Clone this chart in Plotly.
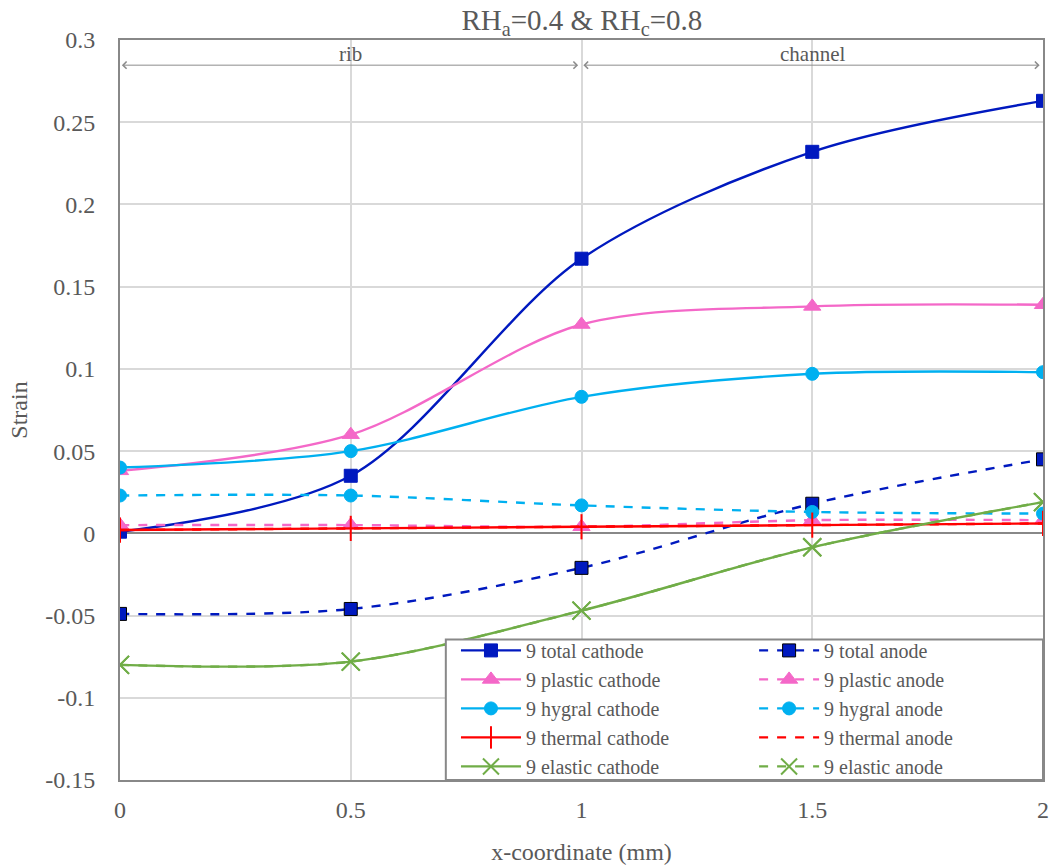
import plotly.graph_objects as go

x_mm = [0, 0.5, 1, 1.5, 2]

total_cathode = [0.001, 0.035, 0.167, 0.232, 0.263]
total_anode = [-0.049, -0.046, -0.021, 0.018, 0.045]
plastic_cathode = [0.038, 0.060, 0.127, 0.138, 0.139]
plastic_anode = [0.005, 0.005, 0.004, 0.008, 0.008]
hygral_cathode = [0.040, 0.050, 0.083, 0.097, 0.098]
hygral_anode = [0.023, 0.023, 0.017, 0.013, 0.012]
thermal_cathode = [0.002, 0.003, 0.004, 0.005, 0.006]
thermal_anode = [0.002, 0.003, 0.004, 0.005, 0.006]
elastic_cathode = [-0.080, -0.078, -0.047, -0.0085, 0.019]
elastic_anode = [-0.080, -0.078, -0.047, -0.0085, 0.019]

y_ticks = [0.3, 0.25, 0.2, 0.15, 0.1, 0.05, 0, -0.05, -0.1, -0.15]
y_labels = ["0.3", "0.25", "0.2", "0.15", "0.1", "0.05", "0", "-0.05", "-0.1", "-0.15"]
x_ticks = [0, 0.5, 1, 1.5, 2]
x_labels = ["0", "0.5", "1", "1.5", "2"]

BLUE = "#0019BF"
PINK = "#F468C8"
CYAN = "#00B0F0"
RED = "#FF0000"
GREEN = "#70AD47"
GREY = "#595959"

# name, values, colour, dash, marker symbol, marker line colour, legend
series = [
    ("9 total cathode", total_cathode, BLUE, "solid", "square", BLUE, "legend"),
    ("9 total anode", total_anode, BLUE, "dash", "square", "black", "legend2"),
    ("9 plastic cathode", plastic_cathode, PINK, "solid", "triangle-up", PINK, "legend"),
    ("9 plastic anode", plastic_anode, PINK, "dash", "triangle-up", PINK, "legend2"),
    ("9 hygral cathode", hygral_cathode, CYAN, "solid", "circle", CYAN, "legend"),
    ("9 hygral anode", hygral_anode, CYAN, "dash", "circle", CYAN, "legend2"),
    ("9 thermal cathode", thermal_cathode, RED, "solid", "line-ns", RED, "legend"),
    ("9 thermal anode", thermal_anode, RED, "dash", None, RED, "legend2"),
    ("9 elastic cathode", elastic_cathode, GREEN, "solid", "x-thin", GREEN, "legend"),
    ("9 elastic anode", elastic_anode, GREEN, "dash", "x-thin", GREEN, "legend2"),
]

fig = go.Figure()
for name, vals, col, dash, sym, mline, leg in series:
    marker = dict(color=col, size=13, line=dict(color=mline, width=1))
    mode = "lines+markers"
    if sym is None:
        mode = "lines"
    else:
        marker["symbol"] = sym
        if sym in ("line-ns", "x-thin"):
            marker = dict(symbol=sym, size=18, line=dict(color=col, width=2))
        if sym == "triangle-up":
            marker["size"] = 15
    fig.add_trace(go.Scatter(
        x=x_mm, y=vals, name=name, mode=mode, legend=leg,
        line=dict(color=col, width=2.4, dash=dash, shape="spline", smoothing=0.9),
        marker=marker,
    ))

font = "Liberation Serif, Times New Roman, serif"
leg_style = dict(orientation="v", yanchor="bottom", y=-0.008, xanchor="left",
                 tracegroupgap=0, bgcolor="rgba(0,0,0,0)", borderwidth=0,
                 font=dict(size=20, color=GREY), itemwidth=60, traceorder="normal")

fig.update_layout(
    width=1055, height=868,
    margin=dict(l=120, r=12, t=40, b=88),
    paper_bgcolor="white", plot_bgcolor="white",
    font=dict(family=font, size=22, color=GREY),
    title=dict(text="RH<sub>a</sub>=0.4 & RH<sub>c</sub>=0.8", x=0.5515, xanchor="center",
               y=0.977, yanchor="middle", font=dict(size=29, color=GREY)),
    showlegend=True,
    legend=dict(x=0.364, **leg_style),
    legend2=dict(x=0.687, **leg_style),
    xaxis=dict(range=[0, 2], tickvals=x_ticks, ticktext=x_labels, automargin=False,
               showgrid=True, gridcolor="#D9D9D9", gridwidth=2,
               showline=True, linecolor="#888888", linewidth=2, mirror=True,
               zeroline=False, ticks="", ticklabelstandoff=7,
               title=dict(text="x-coordinate (mm)", standoff=21, font=dict(size=24)),
               tickfont=dict(size=24)),
    yaxis=dict(range=[-0.15, 0.3], tickvals=y_ticks, ticktext=y_labels, automargin=False,
               showgrid=True, gridcolor="#D9D9D9", gridwidth=2,
               showline=True, linecolor="#888888", linewidth=2, mirror=True,
               zeroline=True, zerolinecolor="#888888", zerolinewidth=2,
               ticks="", ticklabelstandoff=18,
               title=dict(text="Strain", standoff=11, font=dict(size=24)),
               tickfont=dict(size=24)),
)

# legend box (opaque, covers the curves behind it)
fig.add_shape(type="rect", xref="paper", yref="paper", x0=0.353, x1=1.0, y0=0.0, y1=0.19,
              fillcolor="white", line=dict(color="#888888", width=2), layer="above")

# rib / channel dimension arrows
for x0, x1, label in [(0, 1, "rib"), (1, 2, "channel")]:
    fig.add_annotation(x=x0 + 0.004, y=0.2847, ax=x1 - 0.004, ay=0.2847,
                       xref="x", yref="y", axref="x", ayref="y", text="",
                       showarrow=True, arrowhead=4, arrowside="end+start",
                       arrowsize=1.4, arrowwidth=1, arrowcolor="#8C8C8C")
    fig.add_annotation(x=(x0 + x1) / 2, y=0.2847, xref="x", yref="y", text=label,
                       showarrow=False, yanchor="bottom", yshift=-3,
                       font=dict(size=21, color=GREY))

fig.write_html("out.html", config={"displayModeBar": False},
               post_script="document.body.style.margin='0px';")
